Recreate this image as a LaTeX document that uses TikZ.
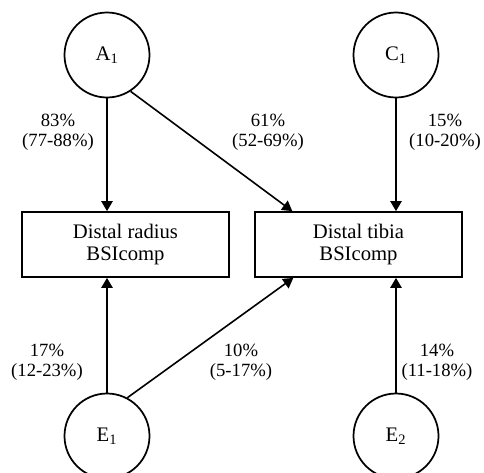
\documentclass[tikz,border=0pt]{standalone}
\usepackage{fontspec}
\setmainfont{Liberation Serif}
\usetikzlibrary{arrows.meta}

\begin{document}
\begin{tikzpicture}[x=0.75pt,y=-0.75pt,
    font=\fontsize{15.5}{16.5}\selectfont,
    line width=1.2pt,
    latent/.style={draw, circle, minimum size=63.75pt, inner sep=0pt, line width=1.3pt},
    pheno/.style={draw, minimum width=155pt, minimum height=48.75pt, align=center, line width=1.3pt},
    est/.style={align=center, font=\fontsize{14}{15}\selectfont},
    link/.style={-{Triangle[length=7.5pt,width=8.5pt]}}]

\useasboundingbox (0,0) rectangle (484,472);

% Latent factors
\node[latent] (A1) at (107,55) {A\textsubscript{1}};
\node[latent] (C1) at (396,55) {C\textsubscript{1}};
\node[latent] (E1) at (107,436) {E\textsubscript{1}};
\node[latent] (E2) at (396,436) {E\textsubscript{2}};

% Measured traits
\node[pheno] (radius) at (125.5,244.5) {Distal radius\\BSIcomp};
\node[pheno] (tibia) at (358.5,244.5) {Distal tibia\\BSIcomp};

% Estimates
\node[est] (lA1r) at (58,132) {83\%\\(77-88\%)};
\node[est] (lA1t) at (268,132) {61\%\\(52-69\%)};
\node[est] (lC1t) at (445,132) {15\%\\(10-20\%)};
\node[est] (lE1r) at (47,362) {17\%\\(12-23\%)};
\node[est] (lE1t) at (241,362) {10\%\\(5-17\%)};
\node[est] (lE2t) at (437,362) {14\%\\(11-18\%)};

% Arrows
\draw[link] (A1.south) -- (A1.south |- radius.north);
\draw[link] (A1.-57) -- ([xshift=28.5pt]tibia.north west);
\draw[link] (C1.south) -- (C1.south |- tibia.north);
\draw[link] (E1.north) -- (E1.north |- radius.south);
\draw[link] (E1.62) -- ([xshift=29.25pt]tibia.south west);
\draw[link] (E2.north) -- (E2.north |- tibia.south);
\end{tikzpicture}
\end{document}
